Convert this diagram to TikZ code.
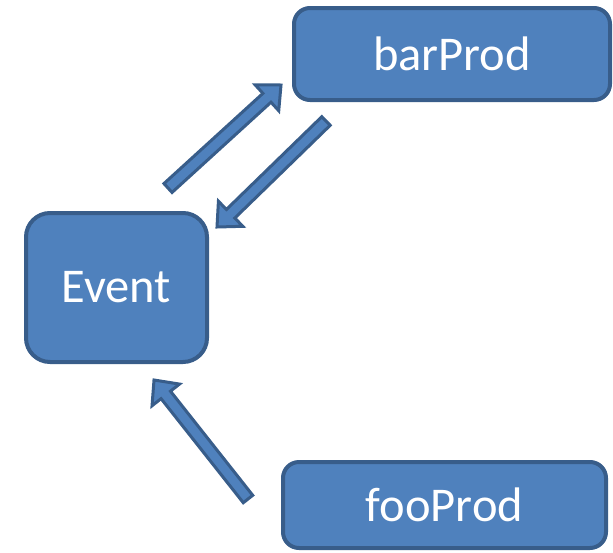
\documentclass[tikz,border=0pt]{standalone}
\usepackage{fontspec}
\setmainfont{Carlito}
\usetikzlibrary{calc}
\definecolor{boxfill}{HTML}{4F81BD}
\definecolor{boxline}{HTML}{385D8A}
\tikzset{
  box/.style={draw=boxline, fill=boxfill, line width=4pt, text=white,
    font=\fontsize{48.5}{52}\selectfont, inner sep=0pt},
  blockarrow/.style={draw=boxline, fill=boxfill, line width=3pt, line join=miter}
}
\newcommand{\blockarr}[2]{% tail, tip
  \coordinate (hb) at ($(#2)!19pt!(#1)$);
  \filldraw[blockarrow]
    ($(#1)!6pt!90:(#2)$) -- ($(hb)!6pt!90:(#2)$) -- ($(hb)!17.5pt!90:(#2)$)
    -- (#2) -- ($(hb)!17.5pt!-90:(#2)$) -- ($(hb)!6pt!-90:(#2)$)
    -- ($(#1)!6pt!-90:(#2)$) -- cycle;
}
\begin{document}
\begin{tikzpicture}[x=1pt,y=-1pt]
\useasboundingbox (0,0) rectangle (613,552);
\node[box, rounded corners=24pt, minimum width=181pt, minimum height=149pt] (ev) at (116.5,287.5) {Event};
\node[box, rounded corners=16pt, minimum width=316pt, minimum height=92pt] (bar) at (452,54) {barProd};
\node[box, rounded corners=16pt, minimum width=323pt, minimum height=86pt] (foo) at (444.5,505) {fooProd};
\coordinate (a1s) at (168,188);
\coordinate (a1e) at (281,85);
\coordinate (a2s) at (326,121);
\coordinate (a2e) at (217,227);
\coordinate (a3s) at (248,499);
\coordinate (a3e) at (154,380);
\blockarr{a1s}{a1e}
\blockarr{a2s}{a2e}
\blockarr{a3s}{a3e}
\end{tikzpicture}
\end{document}
